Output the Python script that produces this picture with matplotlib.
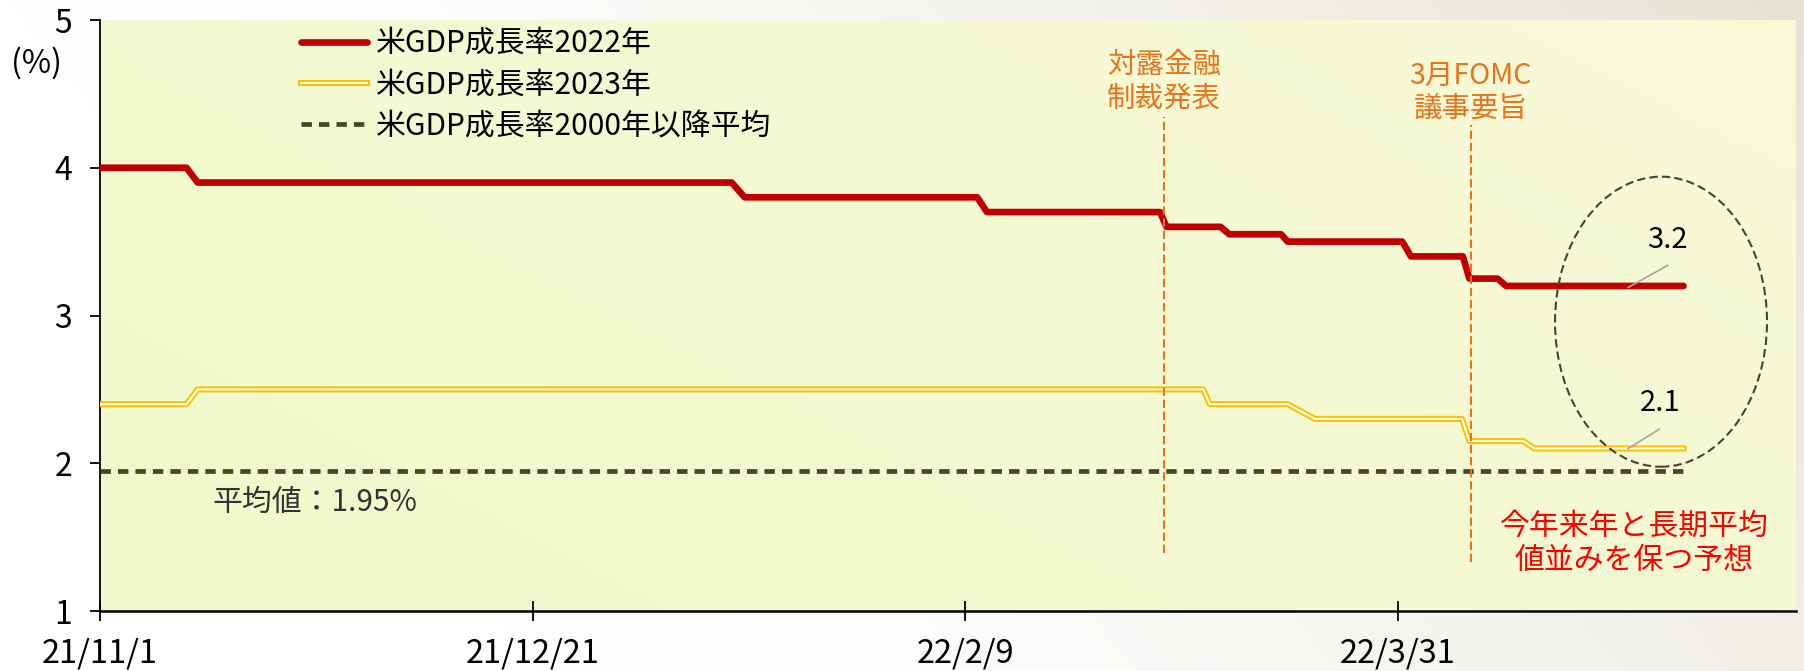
import numpy as np
import pandas as pd
import matplotlib
matplotlib.use('Agg')
import matplotlib.pyplot as plt
import matplotlib.dates as mdates
from matplotlib.patches import Ellipse
from matplotlib.lines import Line2D
from matplotlib.legend_handler import HandlerTuple

plt.rcParams['font.family'] = ['Noto Sans CJK JP', 'DejaVu Sans']

# 米GDP成長率見通し（2022年）
red_dates = ['2021-11-01', '2021-11-11', '2021-11-12 07:00', '2022-01-13', '2022-01-14 12:00',
             '2022-02-10 09:00', '2022-02-11 12:00', '2022-03-03 12:00', '2022-03-04 06:00',
             '2022-03-10 12:00', '2022-03-11 12:00', '2022-03-17 12:00', '2022-03-18 06:00',
             '2022-03-31 12:00', '2022-04-01 12:00', '2022-04-07 12:00', '2022-04-08 06:00',
             '2022-04-11 12:00', '2022-04-12 12:00', '2022-05-03']
red_vals = [4.0, 4.0, 3.9, 3.9, 3.8, 3.8, 3.7, 3.7, 3.6, 3.6, 3.55, 3.55, 3.5, 3.5, 3.4, 3.4,
            3.25, 3.25, 3.2, 3.2]

# 米GDP成長率見通し（2023年）
yel_dates = ['2021-11-01', '2021-11-11', '2021-11-12 07:00', '2022-03-08 12:00', '2022-03-09 06:00',
             '2022-03-18 06:00', '2022-03-21 10:00', '2022-04-07 10:00', '2022-04-08 06:00',
             '2022-04-14 12:00', '2022-04-15 18:00', '2022-05-03']
yel_vals = [2.4, 2.4, 2.5, 2.5, 2.4, 2.4, 2.3, 2.3, 2.15, 2.15, 2.1, 2.1]

avg_val = 1.95
avg_dates = ['2021-11-01', '2022-05-03']

tick_dates = ['2021-11-01', '2021-12-21', '2022-02-09', '2022-03-31']
tick_labels = ['21/11/1', '21/12/21', '22/2/9', '22/3/31']

event_dates = ['2022-03-04', '2022-04-08 10:00']
event_labels = ['対露金融\n制裁発表', '3月FOMC\n議事要旨']

legend_labels = ['米GDP成長率2022年', '米GDP成長率2023年', '米GDP成長率2000年以降平均']

def to_dt(lst):
    return pd.to_datetime(lst, format='mixed')

start = pd.Timestamp('2021-11-01')
def day(n):
    return start + pd.Timedelta(days=n)

red_c = '#C00000'
yel_c = '#FFC000'
ora_c = '#E8731A'
avg_c = '#48452B'

fig = plt.figure(figsize=(18.04, 6.71), dpi=100)

# figure background gradient
bg = fig.add_axes([0, 0, 1, 1], zorder=-10)
gx, gy = np.meshgrid(np.linspace(0, 1, 400), np.linspace(0, 1, 150))
t = np.clip((gx * 0.85 + gy * 0.25 - 0.25) / 0.85, 0, 1) ** 1.6
c0 = np.array([1.0, 1.0, 1.0])
c1 = np.array([0xE6, 0xE2, 0xD5]) / 255
bg.imshow(c0 * (1 - t[..., None]) + c1 * t[..., None], extent=[0, 1, 0, 1], aspect='auto', origin='lower')
bg.axis('off')

ax = fig.add_axes([100 / 1804, 1 - 611 / 671, (1796 - 100) / 1804, (611 - 20) / 671])
px, py = np.meshgrid(np.linspace(0, 1, 300), np.linspace(0, 1, 120))
s = np.clip(px * 0.6 + (1 - py) * 0.4, 0, 1)
p0 = np.array([0xEF, 0xFA, 0xCB]) / 255
p1 = np.array([0xF9, 0xF9, 0xD8]) / 255
ax.imshow(p0 * (1 - s[..., None]) + p1 * s[..., None], extent=[0, 1, 0, 1], transform=ax.transAxes,
          aspect='auto', origin='upper', zorder=0)

# lines
ax.plot(to_dt(avg_dates), [avg_val, avg_val], color=avg_c, lw=3.4, ls=(0, (2.2, 1.5)), zorder=3)
ax.plot(to_dt(yel_dates), yel_vals, color=yel_c, lw=4.4, zorder=4)
ax.plot(to_dt(yel_dates), yel_vals, color='#FFFFF2', lw=1.5, zorder=5)
ax.plot(to_dt(red_dates), red_vals, color=red_c, lw=4.8, solid_capstyle='round', zorder=6)

# event lines
ev_top = [4.345, 4.29]
ev_bot = [1.39, 1.33]
ev_text_y = [4.58, 4.51]
for d, lab, t0, b0, ty in zip(event_dates, event_labels, ev_top, ev_bot, ev_text_y):
    dd = pd.Timestamp(d)
    ax.plot([dd, dd], [b0, t0], color=ora_c, lw=1.5, ls=(0, (4, 1.8)), zorder=7)
    ax.text(dd, ty, lab, color=ora_c, fontsize=20.5, ha='center', va='center', linespacing=1.15, zorder=8)

# ellipse (date units are days)
ell = Ellipse((mdates.date2num(day(180.4)), 2.958), width=24.5, height=1.963, fill=False,
              edgecolor='#444438', lw=1.5, ls=(0, (4, 2)), zorder=8)
ax.add_patch(ell)

# end labels
ax.plot([day(176.6), day(181.2)], [3.19, 3.34], color='#A6A6A6', lw=1.2, zorder=9)
ax.text(day(181.2), 3.51, '3.2', fontsize=21, ha='center', va='center', zorder=9)
ax.plot([day(176.6), day(180.2)], [2.10, 2.23], color='#A6A6A6', lw=1.2, zorder=9)
ax.text(day(180.3), 2.41, '2.1', fontsize=21, ha='center', va='center', zorder=9)

ax.text(day(13.0), 1.733, '平均値：1.95%', fontsize=21.5, color='#333333', ha='left', va='center', zorder=9)
ax.text(day(177.3), 1.46, '今年来年と長期平均\n値並みを保つ予想', fontsize=21.5, color='#FF0000',
        ha='center', va='center', linespacing=1.15, zorder=9)

# axes
ax.set_xlim(start, day(196))
ax.set_ylim(1, 5)
ax.set_yticks([1, 2, 3, 4, 5])
ax.set_xticks(to_dt(tick_dates))
ax.set_xticklabels(tick_labels)
for sp in ['top', 'right']:
    ax.spines[sp].set_visible(False)
ax.spines['left'].set_linewidth(1.3)
ax.spines['bottom'].set_linewidth(1.8)
ax.tick_params(axis='y', direction='out', length=7, width=1.3, labelsize=23, pad=13)
ax.tick_params(axis='x', direction='inout', length=14, width=1.3, labelsize=23.5, pad=12)

fig.text(36 / 1804, 1 - 63 / 671, '(%)', fontsize=23, ha='center', va='center')

# legend
h_red = Line2D([], [], color=red_c, lw=4.8, solid_capstyle='round')
h_yel = (Line2D([], [], color=yel_c, lw=4.4), Line2D([], [], color='#FFFFF2', lw=1.5))
h_avg = Line2D([], [], color=avg_c, lw=3.4, ls=(0, (2.2, 1.5)))
ax.legend([h_red, h_yel, h_avg], legend_labels, handler_map={tuple: HandlerTuple()},
          loc='upper left', bbox_to_anchor=(301 / 1804, 1 - 28 / 671), bbox_transform=fig.transFigure,
          frameon=False, fontsize=21.5, handlelength=2.2, handletextpad=0.3, labelspacing=0.34,
          borderpad=0, borderaxespad=0)

fig.savefig('out.png', dpi=100)
